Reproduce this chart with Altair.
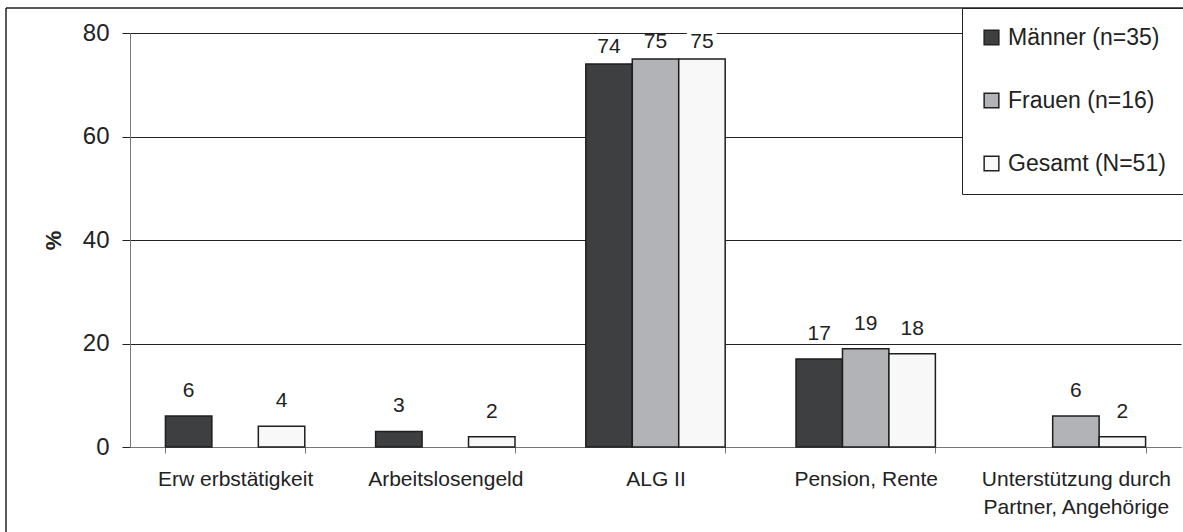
import altair as alt
import pandas as pd

categories = [
    "Erw erbstätigkeit",
    "Arbeitslosengeld",
    "ALG II",
    "Pension, Rente",
    "Unterstützung durch\nPartner, Angehörige",
]
series = ["Männer (n=35)", "Frauen (n=16)", "Gesamt (N=51)"]
maenner = [6, 3, 74, 17, None]
frauen = [None, None, 75, 19, 6]
gesamt = [4, 2, 75, 18, 2]
colors = ["#3e3f41", "#b2b3b6", "#f8f8f8"]

rows = []
for s, vals in zip(series, [maenner, frauen, gesamt]):
    for c, v in zip(categories, vals):
        if v is not None:
            rows.append({"Kategorie": c, "Gruppe": s, "Wert": v})
df = pd.DataFrame(rows)

FONT = "Liberation Sans"
TXT = "#222222"

x_enc = alt.X(
    "Kategorie:N",
    sort=categories,
    scale=alt.Scale(domain=categories, paddingInner=0.337, paddingOuter=0.1685),
    axis=alt.Axis(
        title=None,
        labelAngle=0,
        labelFontSize=21,
        labelColor=TXT,
        labelPadding=15,
        labelLimit=400,
        labelOverlap=False,
        labelExpr="split(datum.label, '\\n')",
        labelLineHeight=28,
        tickBand="extent",
        tickSize=6,
        tickColor="#777777",
        domainColor="#777777",
        grid=False,
    ),
)
xo_enc = alt.XOffset(
    "Gruppe:N",
    sort=series,
    scale=alt.Scale(domain=series, paddingInner=0, paddingOuter=0),
)
y_enc = alt.Y(
    "Wert:Q",
    scale=alt.Scale(domain=[0, 80], nice=False),
    axis=alt.Axis(
        values=[0, 20, 40, 60, 80],
        grid=True,
        gridColor={"condition": {"test": "datum.value === 0", "value": "#888888"}, "value": "#222222"},
        gridWidth=1,
        domainColor="#777777",
        tickColor="#222222",
        tickSize=8,
        labelFontSize=24,
        labelPadding=13,
        labelColor=TXT,
        title="%",
        titleFontSize=22,
        titleFontWeight="bold",
        titleColor=TXT,
        titleAngle=270,
        titleX=-77,
        titleY=207,
        titleAlign="center",
        titleBaseline="middle",
    ),
)

base = alt.Chart(df).encode(x=x_enc, xOffset=xo_enc, y=y_enc)

bars = base.mark_bar(stroke="#1e1e1e", strokeWidth=1.5).encode(
    color=alt.Color(
        "Gruppe:N",
        sort=series,
        scale=alt.Scale(domain=series, range=colors),
        legend=alt.Legend(
            title=None,
            orient="none",
            legendX=832,
            legendY=-25,
            padding=18,
            strokeColor="#222222",
            fillColor="white",
            symbolType="square",
            symbolSize=216,
            symbolStrokeColor="#222222",
            symbolStrokeWidth=1.5,
            symbolOpacity=1,
            labelFontSize=23,
            labelColor=TXT,
            labelOffset=5,
            labelLimit=0,
            rowPadding=39,
        ),
    )
)

halo = base.transform_filter(
    "datum.Gruppe === 'Gesamt (N=51)' && datum.Kategorie !== 'ALG II'"
).mark_text(
    baseline="alphabetic", dy=-19, fontSize=21, font=FONT, color="white", stroke="white", strokeWidth=9
).encode(text=alt.Text("Wert:Q", format="d"))

halo_alg = base.transform_filter(
    "datum.Gruppe === 'Gesamt (N=51)' && datum.Kategorie === 'ALG II'"
).mark_text(
    baseline="alphabetic", dy=-11, fontSize=21, font=FONT, color="white", stroke="white", strokeWidth=9
).encode(text=alt.Text("Wert:Q", format="d"))

labels = base.transform_filter("datum.Kategorie !== 'ALG II'").mark_text(
    baseline="alphabetic", dy=-19, fontSize=21, font=FONT, color=TXT
).encode(text=alt.Text("Wert:Q", format="d"))

labels_alg = base.transform_filter("datum.Kategorie === 'ALG II'").mark_text(
    baseline="alphabetic", dy=-11, fontSize=21, font=FONT, color=TXT
).encode(text=alt.Text("Wert:Q", format="d"))

frame_data = alt.Data(values=[{"k": 1}])
frame_left = alt.Chart(frame_data).mark_rule(color="#222222", strokeWidth=1.5).encode(
    x=alt.value(-124), y=alt.value(-25), y2=alt.value(505)
)
frame_top = alt.Chart(frame_data).mark_rule(color="#222222", strokeWidth=1.5).encode(
    x=alt.value(-124), x2=alt.value(1060), y=alt.value(-25)
)

chart = (
    alt.layer(frame_left, frame_top, bars, halo, halo_alg, labels, labels_alg)
    .properties(
        width=1051,
        height=414,
        autosize=alt.AutoSizeParams(type="none"),
        padding={"left": 130, "top": 33, "right": 2, "bottom": 85},
        background="white",
    )
    .configure(font=FONT)
    .configure_view(stroke=None)
)

chart.save("out.html", embed_options={"renderer": "svg", "actions": False})
